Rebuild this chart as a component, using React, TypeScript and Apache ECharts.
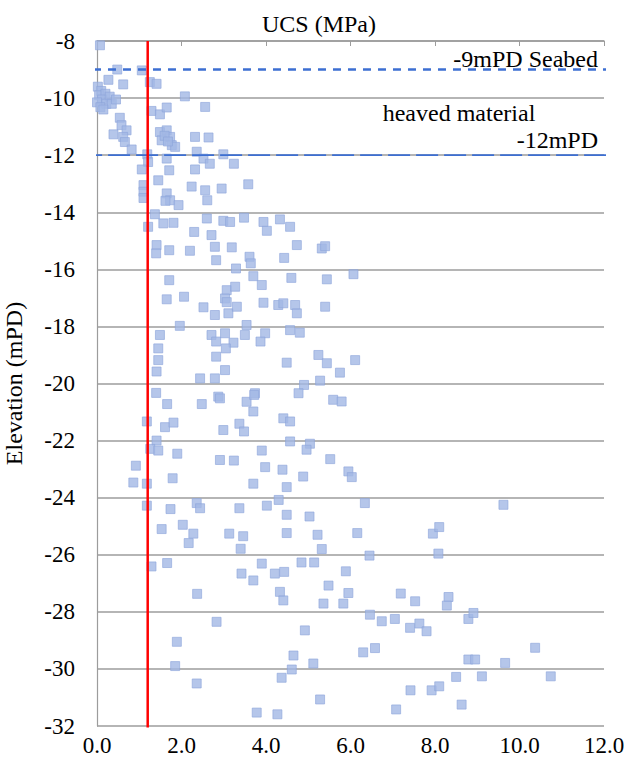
import React, { useEffect, useRef } from "react";
import * as echarts from "echarts";

// UCS test results (MPa) against sample elevation (mPD), grouped by elevation band
const band8to14: [number, number][] = [
  [0.07, -8.15],
  [0.48, -9.0], [1.06, -9.03],
  [0.27, -9.36], [0.62, -9.52], [1.25, -9.44], [1.41, -9.5],
  [0.02, -9.6], [0.1, -9.75], [0.05, -9.9], [0.2, -9.85], [0.12, -10.05], [0.3, -9.95],
  [0.0, -10.15], [0.22, -10.2], [0.08, -10.32], [0.35, -10.2], [0.15, -10.4], [0.45, -10.05],
  [2.08, -9.94],
  [1.29, -10.45], [1.49, -10.57], [1.65, -10.33], [2.56, -10.31],
  [0.54, -10.69], [0.58, -10.95], [0.7, -11.13], [0.39, -11.27], [0.62, -11.36], [0.66, -11.54], [0.82, -11.8],
  [1.49, -11.19], [1.65, -11.13], [1.73, -11.36], [1.53, -11.48], [1.77, -11.65], [1.85, -11.71], [1.6, -11.32], [1.68, -11.52],
  [2.32, -11.36], [2.64, -11.38],
  [1.19, -11.97], [1.21, -12.24], [1.06, -12.5],
  [1.65, -12.12], [1.71, -12.53],
  [2.36, -11.88], [2.52, -12.12], [2.67, -12.3],
  [2.99, -11.97], [3.24, -12.3],
  [2.32, -12.5],
  [1.45, -12.88],
  [1.1, -13.05], [1.1, -13.28], [1.1, -13.5],
  [1.65, -13.34], [1.73, -13.58], [1.93, -13.75], [1.62, -13.6],
  [2.24, -13.1],
  [2.56, -13.23], [2.61, -13.58],
  [2.95, -13.17],
  [3.58, -13.02],
];

const band14to20: [number, number][] = [
  [1.37, -14.07], [1.21, -14.51], [1.57, -14.39], [1.81, -14.37], [2.6, -14.22], [2.99, -14.3], [3.15, -14.34],
  [3.48, -14.19], [3.94, -14.34], [4.02, -14.65], [4.33, -14.25], [4.57, -14.51],
  [2.3, -14.69], [2.71, -14.8], [2.79, -15.21],
  [1.41, -15.15], [1.4, -15.44], [1.71, -15.33], [2.2, -15.35], [3.19, -15.23], [2.82, -15.68], [3.61, -15.56],
  [3.64, -15.79], [3.29, -15.97], [3.7, -16.24], [3.9, -16.55], [4.43, -15.6], [4.73, -15.15], [5.32, -15.27], [5.4, -15.19],
  [6.07, -16.17], [4.6, -16.3], [5.44, -16.35],
  [1.71, -16.38], [1.65, -17.05], [2.06, -16.96], [3.07, -16.73], [3.27, -16.61], [3.03, -17.02], [3.07, -17.15],
  [2.52, -17.33], [2.79, -17.6], [3.11, -17.54], [3.31, -17.31], [3.94, -17.17], [4.29, -17.25], [4.41, -17.19],
  [4.69, -17.25], [4.73, -17.54], [5.4, -17.31],
  [1.96, -17.98], [1.49, -18.3], [1.45, -18.77], [1.45, -19.18], [1.41, -19.58],
  [2.71, -18.3], [2.82, -18.53], [3.03, -18.24], [3.23, -18.57], [3.05, -18.77], [3.54, -17.95], [3.5, -18.3],
  [3.98, -18.24], [3.87, -18.53],
  [4.57, -18.13], [4.8, -18.22],
  [2.82, -19.06], [3.03, -19.53], [2.44, -19.82], [2.79, -19.82],
  [4.49, -19.27], [5.24, -19.0], [5.44, -19.29], [6.11, -19.18], [5.75, -19.62], [5.28, -19.9],
];

const band20to26: [number, number][] = [
  [1.4, -20.33], [2.87, -20.46], [3.74, -20.34],
  [1.66, -20.72], [2.48, -20.72], [2.91, -20.52], [3.54, -20.64], [3.72, -20.4], [3.7, -20.98],
  [4.9, -20.05], [4.77, -20.34], [5.59, -20.57], [5.79, -20.63],
  [4.41, -21.22], [4.57, -21.33],
  [1.18, -21.33], [1.61, -21.53], [1.81, -21.37], [2.99, -21.63], [3.37, -21.41], [3.48, -21.68],
  [1.41, -22.0], [1.26, -22.29], [1.45, -22.35], [1.9, -22.46], [2.91, -22.68], [3.24, -22.7], [3.9, -22.35], [3.98, -22.93],
  [4.57, -22.03], [5.04, -22.11], [4.96, -22.32], [5.52, -22.65],
  [4.39, -23.02], [4.88, -23.26], [5.95, -23.08], [6.03, -23.28],
  [0.92, -22.88], [0.86, -23.47], [1.18, -23.51], [1.79, -23.32], [3.7, -23.51], [4.49, -23.63],
  [1.18, -24.28], [1.74, -24.4], [2.36, -24.19], [2.44, -24.37], [3.37, -24.37], [4.02, -24.28], [4.3, -24.08],
  [4.49, -24.6], [5.03, -24.66], [6.34, -24.19], [9.62, -24.25],
  [1.53, -25.1], [2.03, -24.95], [2.28, -25.26], [2.17, -25.59], [3.13, -25.26], [3.46, -25.35], [3.4, -25.79],
  [4.49, -25.24], [5.22, -25.3], [6.16, -25.24], [7.95, -25.26], [8.1, -25.03],
  [5.32, -25.8], [6.45, -26.03], [8.08, -25.96],
];

const band26to32: [number, number][] = [
  [1.29, -26.41], [1.66, -26.29], [3.9, -26.31], [3.42, -26.66], [3.7, -26.9], [4.21, -26.66], [4.43, -26.6],
  [4.84, -26.27], [5.14, -26.27], [5.89, -26.58],
  [4.33, -27.3], [4.41, -27.6], [2.37, -27.37], [5.48, -27.08], [5.95, -27.34], [5.36, -27.71], [5.83, -27.71],
  [7.19, -27.36], [7.53, -27.63], [8.32, -27.48], [8.28, -27.78],
  [2.83, -28.35], [6.46, -28.1], [6.74, -28.33], [7.05, -28.25], [7.41, -28.56], [7.63, -28.41], [7.8, -28.68],
  [8.79, -28.25], [8.91, -28.04], [4.92, -28.65],
  [1.89, -29.05], [6.3, -29.42], [6.58, -29.27], [4.65, -29.53], [10.37, -29.26],
  [1.85, -29.9], [4.61, -30.02], [5.12, -29.81], [8.79, -29.67], [8.95, -29.67], [9.66, -29.79],
  [2.36, -30.51], [4.37, -30.31], [8.5, -30.28], [9.11, -30.26], [10.74, -30.26],
  [7.42, -30.75], [7.92, -30.75], [8.1, -30.61],
  [5.28, -31.07], [7.08, -31.42], [8.63, -31.25], [3.78, -31.53], [4.27, -31.59],
];

// Reference levels
const seabedLevel = -9;
const heavedBaseLevel = -12;
const ucsThreshold = 1.2;

// Axis ranges and ticks
const ucsMin = 0;
const ucsMax = 12;
const ucsStep = 2;
const elevMin = -32;
const elevMax = -8;
const elevStep = 2;

const SERIF = "Liberation Serif";
const GRID_GREY = "#9c9c9c";
const LEVEL_BLUE = "#3d6fd2";

const textStyle = (text: string, align: string) => ({
  text,
  align,
  verticalAlign: "middle",
  fontFamily: SERIF,
  fontSize: 24,
  fill: "#000",
});

export default function App() {
  const ref = useRef<HTMLDivElement>(null);

  useEffect(() => {
    if (!ref.current) return;
    const chart = echarts.init(ref.current, undefined, { renderer: "svg" });

    const samples = [...band8to14, ...band14to20, ...band20to26, ...band26to32];

    chart.setOption({
      animation: false,
      backgroundColor: "#ffffff",
      textStyle: { fontFamily: SERIF },
      grid: { left: 97, top: 41, width: 507, height: 685, outerBoundsMode: "none", containLabel: false },
      xAxis: [
        {
          type: "value",
          position: "top",
          min: ucsMin,
          max: ucsMax,
          interval: ucsStep,
          axisLine: { show: true, lineStyle: { color: GRID_GREY, width: 1.5 } },
          axisTick: { show: true, inside: true, length: 5, lineStyle: { color: GRID_GREY, width: 1 } },
          axisLabel: { show: false },
          splitLine: { show: false },
        },
        {
          type: "value",
          position: "bottom",
          min: ucsMin,
          max: ucsMax,
          interval: ucsStep,
          axisLine: { show: false },
          axisTick: { show: false },
          axisLabel: {
            margin: 8,
            color: "#000",
            fontFamily: SERIF,
            fontSize: 23,
            formatter: (v: number) => v.toFixed(1),
          },
          splitLine: { show: false },
        },
      ],
      yAxis: {
        type: "value",
        min: elevMin,
        max: elevMax,
        interval: elevStep,
        name: "Elevation (mPD)",
        nameLocation: "middle",
        nameRotate: 90,
        nameGap: 71,
        nameTextStyle: { color: "#000", fontFamily: SERIF, fontSize: 24 },
        axisLine: { show: true, lineStyle: { color: GRID_GREY, width: 1.2 } },
        axisTick: { show: false },
        axisLabel: { margin: 22, color: "#000", fontFamily: SERIF, fontSize: 23 },
        splitLine: { show: true, lineStyle: { color: GRID_GREY, width: 1.5 } },
      },
      graphic: [
        { type: "text", x: 319, y: 24, style: textStyle("UCS (MPa)", "center") },
        { type: "text", x: 598, y: 59, style: textStyle("-9mPD Seabed", "right") },
        { type: "text", x: 459, y: 113, style: textStyle("heaved material", "center") },
        { type: "text", x: 598, y: 140, style: textStyle("-12mPD", "right") },
      ],
      series: [
        {
          type: "scatter",
          xAxisIndex: 0,
          data: samples,
          symbol: "rect",
          symbolSize: 9,
          itemStyle: { color: "#a3b8e5", borderColor: "#8ea6db", borderWidth: 0.8 },
          z: 2,
        },
        {
          type: "line",
          xAxisIndex: 0,
          data: [[-0.45, seabedLevel], [ucsMax + 0.05, seabedLevel]],
          symbol: "none",
          clip: false,
          lineStyle: { color: LEVEL_BLUE, width: 2.6, type: [8, 7] },
          silent: true,
          z: 3,
        },
        {
          type: "line",
          xAxisIndex: 0,
          data: [[-0.4, heavedBaseLevel], [ucsMax + 0.15, heavedBaseLevel]],
          symbol: "none",
          clip: false,
          lineStyle: { color: LEVEL_BLUE, width: 1.8, type: [22, 6] },
          silent: true,
          z: 3,
        },
        {
          type: "line",
          xAxisIndex: 0,
          data: [[ucsThreshold, elevMax], [ucsThreshold, elevMin - 0.05]],
          symbol: "none",
          clip: false,
          lineStyle: { color: "#ff0000", width: 2.5 },
          silent: true,
          z: 4,
        },
      ],
    });

    return () => chart.dispose();
  }, []);

  return (
    <div
      ref={ref}
      style={{ position: "fixed", left: 0, top: 0, width: 625, height: 765, background: "#fff" }}
    />
  );
}
